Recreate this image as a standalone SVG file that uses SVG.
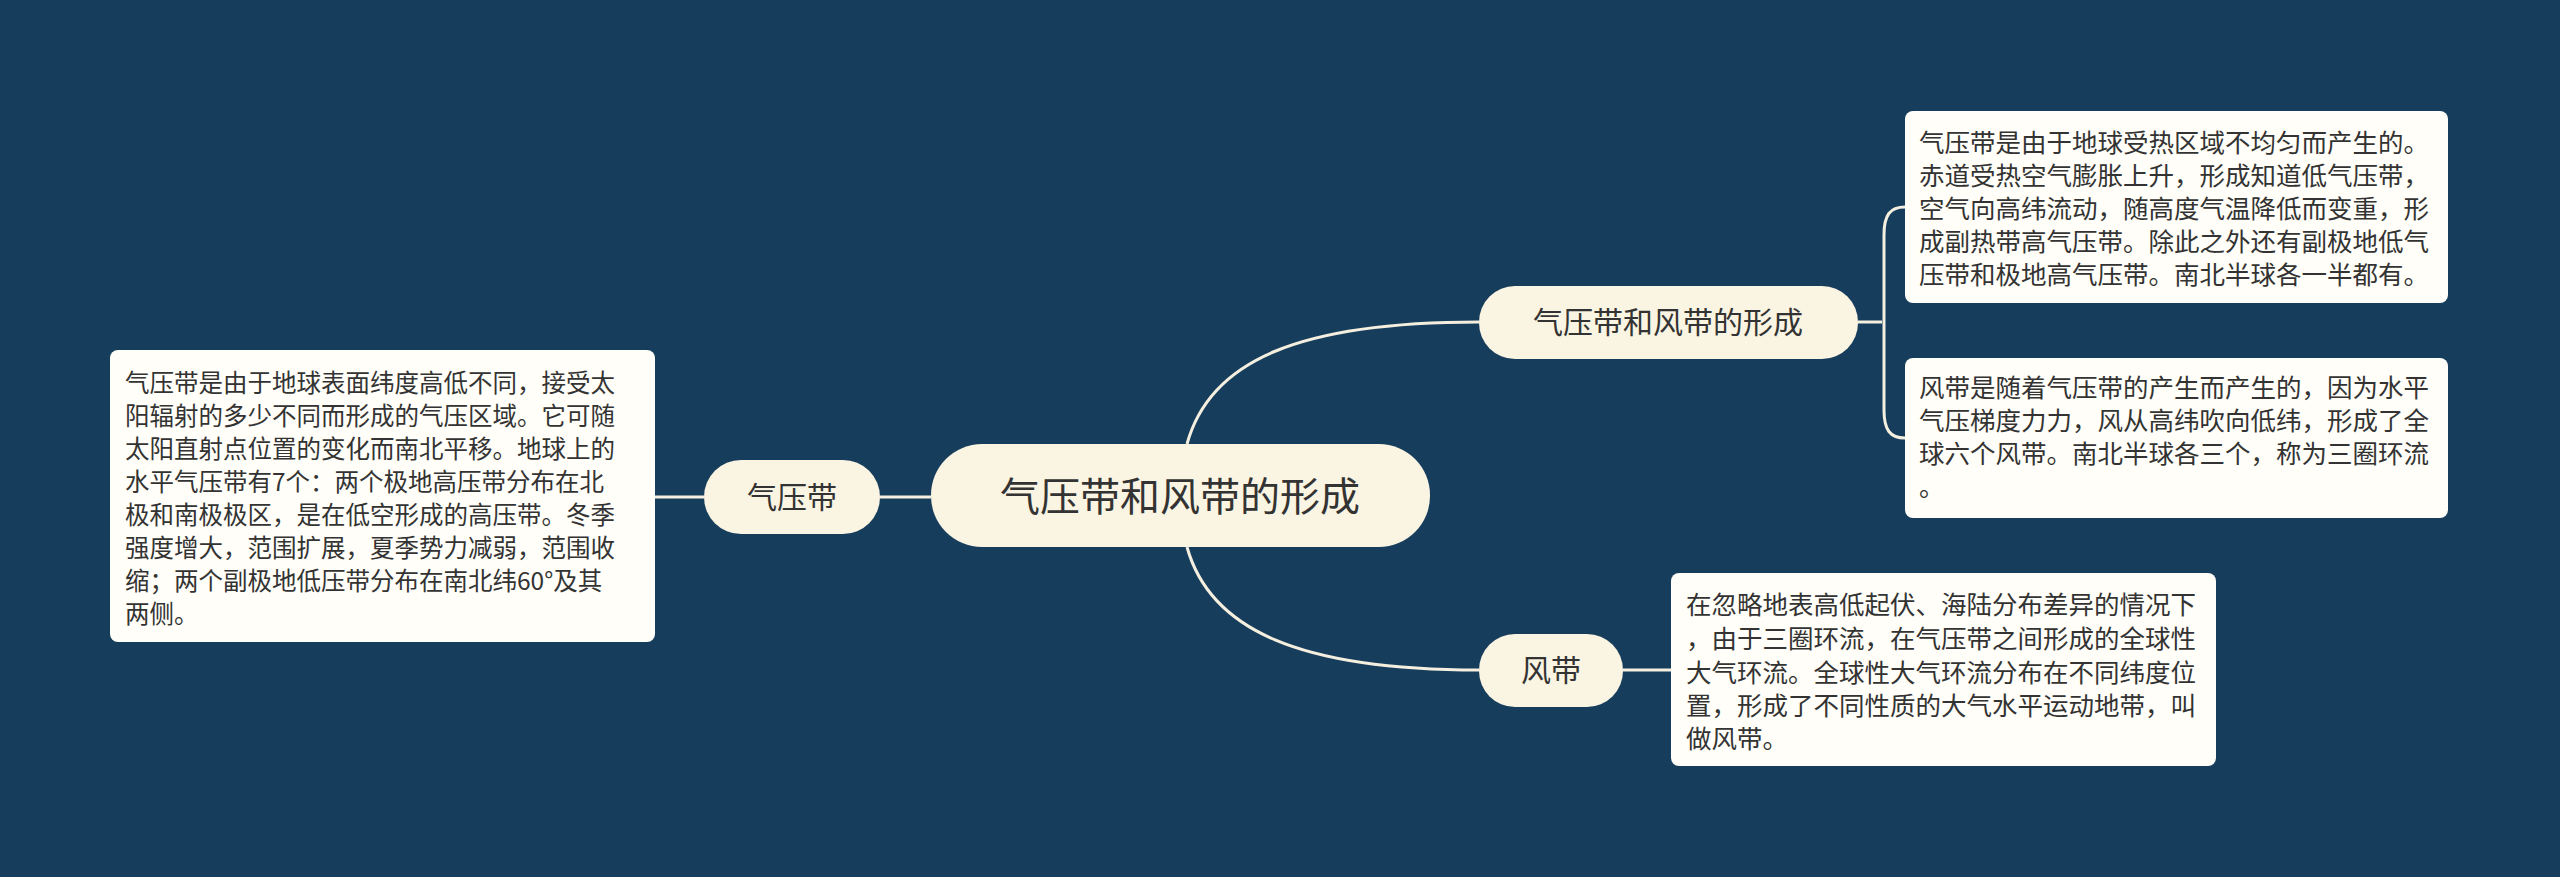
<svg xmlns="http://www.w3.org/2000/svg" width="2560" height="877" viewBox="0 0 2560 877">
<style>
.t{font-family:"Noto Sans CJK SC","Noto Sans",sans-serif;fill:#333}
.n{fill:#FAF4E2}
.b{fill:#FFFEF8}
.c{fill:none;stroke:#F4EFDF;stroke-width:3}
</style>
<rect width="2560" height="877" fill="#173D5C"/>
<g id="connectors">
<path class="c" d="M1187,444 C1210,360 1300,322 1479,322"/>
<path class="c" d="M1187,547 C1210,630 1300,670 1479,670"/>
<path class="c" d="M931,497 L880,497"/>
<path class="c" d="M704,497 L655,497"/>
<path class="c" d="M1623,670 L1671,670"/>
<path class="c" d="M1858,322 L1882,322 M1905,207 C1890,207 1884,215 1884,235 L1884,410 C1884,430 1890,438 1905,438"/>
</g>
<g id="center"><rect class="n" x="931" y="444" width="499" height="103" rx="51"/><text class="t" x="1180" y="511" font-size="40" text-anchor="middle">气压带和风带的形成</text></g>
<g id="n-right"><rect class="n" x="1479" y="286" width="379" height="73" rx="36"/><text class="t" x="1668" y="333" font-size="30" text-anchor="middle">气压带和风带的形成</text></g>
<g id="n-wind"><rect class="n" x="1479" y="634" width="144" height="73" rx="36"/><text class="t" x="1551" y="681" font-size="30" text-anchor="middle">风带</text></g>
<g id="n-pressure"><rect class="n" x="704" y="460" width="176" height="74" rx="37"/><text class="t" x="792" y="508" font-size="30" text-anchor="middle">气压带</text></g>
<g id="box1"><rect class="b" x="1905" y="111" width="543" height="192" rx="8"/>
<text class="t" font-size="25.5"><tspan x="1919" y="152">气压带是由于地球受热区域不均匀而产生的。</tspan><tspan x="1919" y="185">赤道受热空气膨胀上升，形成知道低气压带，</tspan><tspan x="1919" y="218">空气向高纬流动，随高度气温降低而变重，形</tspan><tspan x="1919" y="251">成副热带高气压带。除此之外还有副极地低气</tspan><tspan x="1919" y="284">压带和极地高气压带。南北半球各一半都有。</tspan></text></g>
<g id="box2"><rect class="b" x="1905" y="358" width="543" height="160" rx="8"/>
<text class="t" font-size="25.5"><tspan x="1919" y="397">风带是随着气压带的产生而产生的，因为水平</tspan><tspan x="1919" y="430">气压梯度力力，风从高纬吹向低纬，形成了全</tspan><tspan x="1919" y="463">球六个风带。南北半球各三个，称为三圈环流</tspan><tspan x="1919" y="496">。</tspan></text></g>
<g id="box3"><rect class="b" x="110" y="350" width="545" height="292" rx="8"/>
<text class="t" font-size="24.5"><tspan x="125" y="392">气压带是由于地球表面纬度高低不同，接受太</tspan><tspan x="125" y="425">阳辐射的多少不同而形成的气压区域。它可随</tspan><tspan x="125" y="458">太阳直射点位置的变化而南北平移。地球上的</tspan><tspan x="125" y="491">水平气压带有7个：两个极地高压带分布在北</tspan><tspan x="125" y="524">极和南极极区，是在低空形成的高压带。冬季</tspan><tspan x="125" y="557">强度增大，范围扩展，夏季势力减弱，范围收</tspan><tspan x="125" y="590">缩；两个副极地低压带分布在南北纬60°及其</tspan><tspan x="125" y="623">两侧。</tspan></text></g>
<g id="box4"><rect class="b" x="1671" y="573" width="545" height="193" rx="8"/>
<text class="t" font-size="25.5"><tspan x="1686" y="614">在忽略地表高低起伏、海陆分布差异的情况下</tspan><tspan x="1686" y="648">，由于三圈环流，在气压带之间形成的全球性</tspan><tspan x="1686" y="682">大气环流。全球性大气环流分布在不同纬度位</tspan><tspan x="1686" y="715">置，形成了不同性质的大气水平运动地带，叫</tspan><tspan x="1686" y="748">做风带。</tspan></text></g>
</svg>
